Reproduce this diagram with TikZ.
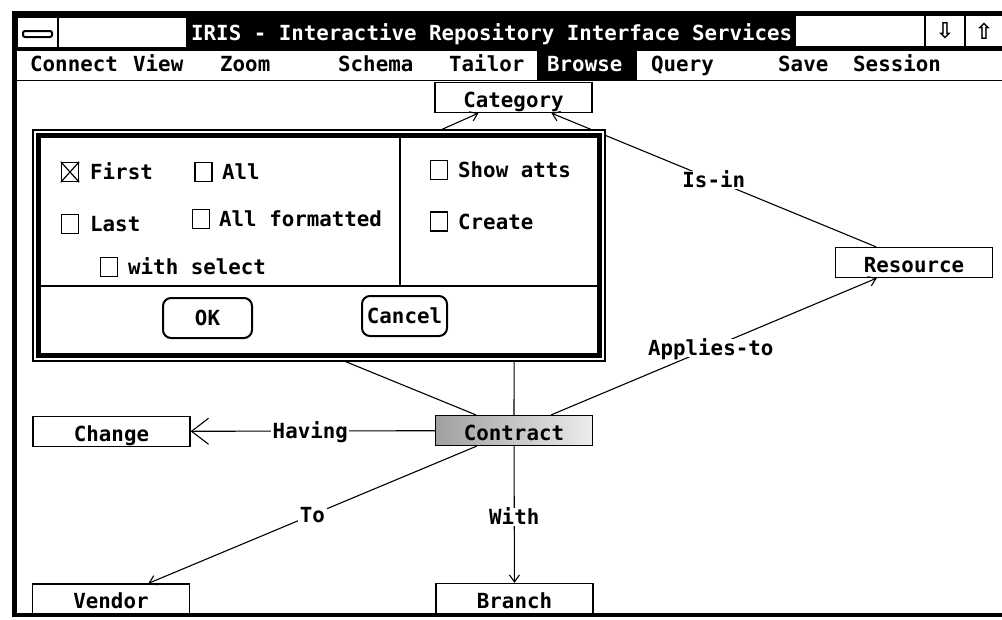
\documentclass[tikz,border=0pt]{standalone}
\usepackage{fontspec}
\newfontfamily\gem{DejaVu Sans Mono}
\newfontfamily\symf{DejaVu Sans}
\usetikzlibrary{arrows.meta}
\tikzset{
  gembold/.style={font=\gem\bfseries\fontsize{20.8}{24}\selectfont},
  ent/.style={draw, line width=1.3pt, fill=white, minimum width=157pt, minimum height=30pt,
    inner sep=0pt, gembold, text height=19pt, text depth=0pt},
  lbl/.style={fill=white, inner sep=1.5pt, gembold, text height=15pt, text depth=0pt},
  conn/.style={line width=1.1pt},
  arr/.style={conn, -{Straight Barb[length=7pt,width=10pt,line width=1.1pt]}},
  bigarr/.style={conn, -{Straight Barb[length=17pt,width=26pt,line width=1.1pt]}},
  menuitem/.style={anchor=base west, inner sep=0pt, gembold},
  opt/.style={anchor=west, inner sep=0pt, gembold, text height=15pt, text depth=0pt},
  cbox/.style={draw, line width=1.4pt, minimum width=17pt, minimum height=19pt, inner sep=0pt, fill=white},
  btn/.style={draw, line width=2pt, rounded corners=8pt, inner sep=0pt, gembold,
    text height=15pt, text depth=0pt}
}
\begin{document}
\begin{tikzpicture}[x=1pt,y=-1pt]
\useasboundingbox (0,0) rectangle (1002,619);
\fill[white] (0,0) rectangle (1002,619);

% ---------- window frame and title bar ----------
\fill (12,11) rectangle (1002,50);
\fill (12,11) rectangle (17,617);
\fill (12,613) rectangle (1002,617);
\draw[line width=1.2pt, fill=white] (17,17) rectangle (187,48);
\draw[line width=1.2pt] (58,17) -- (58,48);
\draw[line width=2pt, rounded corners=2pt] (23,31) rectangle (52,37);
\node[menuitem, text=white] (title) at (191,40) {IRIS - Interactive Repository Interface Services};
\draw[line width=1.4pt, fill=white] (795,15) rectangle (1004,47);
\draw[line width=1.4pt] (925,15) -- (925,47);
\draw[line width=1.4pt] (965,15) -- (965,47);
\node[font=\symf\bfseries\fontsize{22}{24}\selectfont, inner sep=0pt] (down) at (945,31) {⇩};
\node[font=\symf\bfseries\fontsize{22}{24}\selectfont, inner sep=0pt] (up) at (984,31) {⇧};

% ---------- menu bar ----------
\draw[line width=1.5pt] (17,50) -- (1002,50);
\draw[line width=1.5pt] (17,80.5) -- (1002,80.5);
\fill (537,50) rectangle (637,80);
\node[menuitem] (mConnect) at (30,71) {Connect};
\node[menuitem] (mView) at (133,71) {View};
\node[menuitem] (mZoom) at (220,71) {Zoom};
\node[menuitem] (mSchema) at (338,71) {Schema};
\node[menuitem] (mTailor) at (449,71) {Tailor};
\node[menuitem, text=white] (mBrowse) at (547,71) {Browse};
\node[menuitem] (mQuery) at (651,71) {Query};
\node[menuitem] (mSave) at (778,71) {Save};
\node[menuitem] (mSession) at (853,71) {Session};

% ---------- entity nodes ----------
\node[ent] (category) at (513.5,97.5) {Category};
\node[ent] (resource) at (914,262.5) {Resource};
\node[ent] (change) at (111.5,431.5) {Change};
\node[ent, left color=gray!75, right color=gray!15] (contract) at (514,430.5) {Contract};
\node[ent] (vendor) at (111,599) {Vendor};
\node[ent] (branch) at (514.5,598.5) {Branch};

% hidden ends (under the dialog box)
\coordinate (hidA) at (124,271);
\coordinate (hidB) at (514.5,240);

% ---------- connectors ----------
\draw[arr] (hidA) -- (category);
\draw[conn] (hidA) -- (contract);
\draw[conn] (hidB) -- (contract.north);
\draw[arr] (resource) -- node[lbl, pos=0.5] (lIsin) {Is-in} (category);
\draw[arr] (contract) -- node[lbl, pos=0.49] (lApplies) {Applies-to} (resource);
\draw[bigarr] (contract) -- node[lbl, pos=0.51] (lHaving) {Having} (change);
\draw[arr] (contract) -- node[lbl, pos=0.5] (lTo) {To} (vendor);
\draw[arr] (contract) -- node[lbl, pos=0.52] (lWith) {With} (branch);

% ---------- dialog box ----------
\draw[line width=1.2pt, fill=white] (33,130) rectangle (605,361);
\draw[line width=4.5pt] (38.5,135.5) rectangle (599.5,355.5);
\draw[line width=2pt] (40,286) -- (598,286);
\draw[line width=2pt] (400,137) -- (400,286);

\node[cbox] (cbFirst) at (70,172) {};
\draw[line width=1.2pt] (cbFirst.north west) -- (cbFirst.south east)
                        (cbFirst.north east) -- (cbFirst.south west);
\node[opt] (tFirst) at (90,172) {First};
\node[cbox] (cbAll) at (203.5,172) {};
\node[opt] (tAll) at (222,172) {All};
\node[cbox] (cbShow) at (439,170) {};
\node[opt] (tShow) at (458,170) {Show atts};
\node[cbox] (cbLast) at (70,224) {};
\node[opt] (tLast) at (90,224) {Last};
\node[cbox] (cbAllf) at (201,219) {};
\node[opt] (tAllf) at (219,219) {All formatted};
\node[cbox] (cbCreate) at (439,221.5) {};
\node[opt] (tCreate) at (458,221.5) {Create};
\node[cbox] (cbSel) at (109,267) {};
\node[opt] (tSel) at (128,267) {with select};

\node[btn, minimum width=89pt, minimum height=40pt] (ok) at (207.5,318) {OK};
\node[btn, minimum width=85pt, minimum height=40pt] (cancel) at (404.5,316) {Cancel};
\end{tikzpicture}
\end{document}
